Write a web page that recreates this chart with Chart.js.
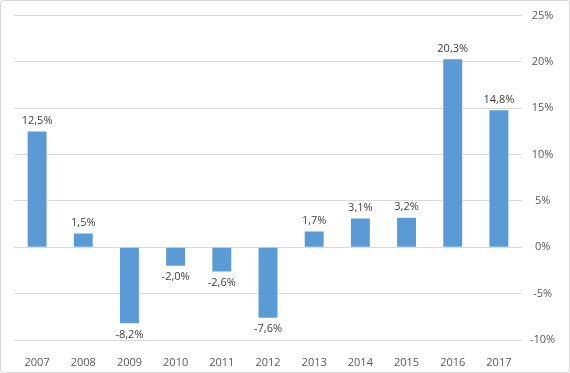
<!DOCTYPE html>
<html>
<head>
<meta charset="utf-8">
<script src="https://cdn.jsdelivr.net/npm/chart.js@4/dist/chart.umd.min.js"></script>
<style>
  body { margin: 0; background: #fff; }
  #box {
    position: absolute; left: 0; top: 0;
    width: 570px; height: 373px; box-sizing: border-box;
    border: 1px solid #d9d9d9; border-radius: 3px; background: #fff;
  }
  #box canvas { position: absolute; left: 0; top: 0; }
</style>
</head>
<body>
<div id="box"><canvas id="chart" width="568" height="371"></canvas></div>
<script>
let years = ['2007', '2008', '2009', '2010', '2011', '2012', '2013', '2014', '2015', '2016', '2017'];
let change = [12.5, 1.5, -8.2, -2.0, -2.6, -7.6, 1.7, 3.1, 3.2, 20.3, 14.8];

let labelColor = '#595959';
let fontFamily = "'Open Sans', 'Liberation Sans', sans-serif";

function pct(v, digits) {
  return v.toFixed(digits).replace('.', ',') + '%';
}

// draws the value above / below each bar
let barLabels = {
  id: 'barLabels',
  afterDatasetsDraw(chart) {
    let ctx = chart.ctx;
    let meta = chart.getDatasetMeta(0);
    ctx.save();
    ctx.font = '11px ' + fontFamily;
    ctx.fillStyle = '#404040';
    ctx.textAlign = 'center';
    meta.data.forEach((bar, i) => {
      let v = change[i];
      if (v >= 0) {
        ctx.textBaseline = 'bottom';
        ctx.fillText(pct(v, 1), bar.x, bar.y - 5);
      } else {
        ctx.textBaseline = 'top';
        ctx.fillText(pct(v, 1), bar.x, bar.y + 6);
      }
    });
    ctx.restore();
  }
};

new Chart(document.getElementById('chart'), {
  type: 'bar',
  data: {
    labels: years,
    datasets: [{
      data: change,
      backgroundColor: '#5b9bd5',
      barPercentage: 0.41,
      categoryPercentage: 1
    }]
  },
  options: {
    responsive: false,
    animation: false,
    layout: { padding: { left: 13, top: 12, right: 0, bottom: 0 } },
    plugins: { legend: { display: false }, tooltip: { enabled: false } },
    scales: {
      x: {
        grid: { display: false },
        border: { display: false },
        ticks: { color: labelColor, font: { family: fontFamily, size: 11 }, padding: 8 },
        afterFit(scale) { scale.height = 32; }
      },
      y: {
        position: 'right',
        min: -10,
        max: 25,
        grid: { color: '#d9d9d9', drawTicks: false },
        border: { display: false },
        ticks: {
          stepSize: 5,
          color: labelColor,
          font: { family: fontFamily, size: 11 },
          padding: 8,
          crossAlign: 'center',
          callback: (v) => pct(v, 0)
        },
        afterFit(scale) { scale.width = 47; }
      }
    }
  },
  plugins: [barLabels]
});
</script>
</body>
</html>
